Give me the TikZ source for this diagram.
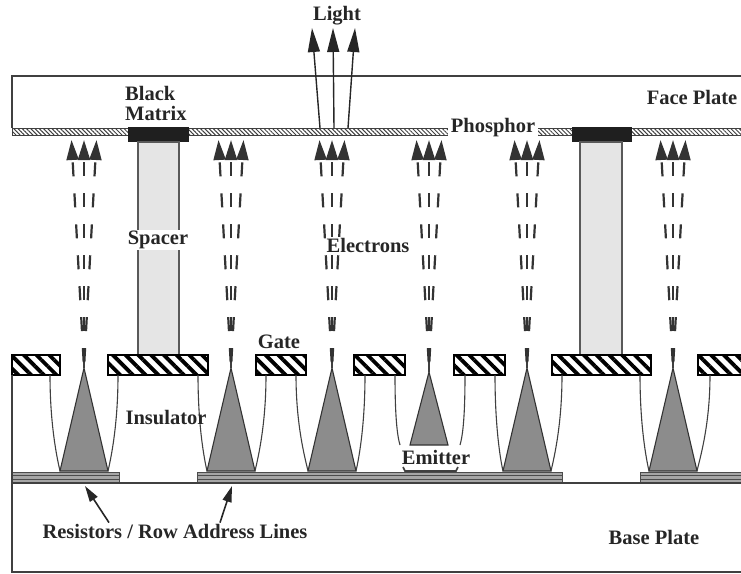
\documentclass[tikz,border=0pt]{standalone}
\usepackage{fontspec}
\setmainfont{Liberation Serif}
\usepackage{tikz}
\usetikzlibrary{arrows.meta, patterns.meta}
\tikzset{
  txt/.style={font=\bfseries\fontsize{20.5}{20}\selectfont, text=black!85, inner sep=1pt},
  plate/.style={draw=black!75, line width=1.4pt},
  phosphor/.style={pattern={Lines[angle=-45,distance=3pt,line width=1pt]}, pattern color=black!75, draw=black!75, line width=0.8pt},
  blackmat/.style={fill=black!88},
  post/.style={fill=black!10, draw=black!65, line width=1.4pt},
  gatebar/.style={pattern={Lines[angle=-45,distance=9pt,line width=3.8pt]}, draw=black, line width=1.4pt},
  cone/.style={fill=black!45, draw=black!80, line width=1.1pt},
  wall/.style={draw=black!75, line width=1.1pt},
  rowline/.style={fill=black!35, draw=black!70, line width=0.9pt},
  electron/.style={{Triangle[length=20pt,width=12pt]}-, draw=black!80, line width=2.2pt, dash pattern=on 14pt off 17pt, dash phase=28pt},
  ray/.style={-{Triangle[length=24pt,width=12pt]}, draw=black!85, line width=1.4pt},
  pointer/.style={-{Triangle[length=16pt,width=9pt]}, draw=black!85, line width=1.6pt}
}

\begin{document}
\begin{tikzpicture}[x=1pt, y=-1pt]
	\useasboundingbox (0,0) rectangle (741,573);
	\clip (0,0) rectangle (741,573);
	% face plate and phosphor
	\draw[plate] (12,128) -- (12,76) -- (750,76);
	\draw[phosphor] (12,128) rectangle (750,135);
	\fill[blackmat] (128,127) rectangle (189,142);
	\fill[blackmat] (572,127) rectangle (632,142);
	% spacers
	\filldraw[post] (138,142) rectangle (179,355);
	\filldraw[post] (580,142) rectangle (622,355);
	% gate
	\foreach \a/\b in {12/60, 108/208, 256/306, 354/405, 454/505, 552/651, 698/750}
		\draw[gatebar] (\a,355) rectangle (\b,375);
	% resistors / row lines
	\foreach \a/\b in {12/119, 197/562, 640/750}{
		\filldraw[rowline] (\a,472) rectangle (\b,483);
		\draw[black!70, line width=0.6pt] (\a,475.5) -- (\b,475.5) (\a,479) -- (\b,479);
	}
	% base plate
	\draw[plate] (12,375) -- (12,572) -- (750,572);
	\draw[plate] (12,483) -- (750,483);
	% emitter cones in their cavities
	\foreach \x/\a/\b in {84/50/118, 231/198/266, 332/296/365, 527/495/562, 673/640/710}{
		\filldraw[cone] (\x-24,471) -- (\x,368) -- (\x+24,471) -- cycle;
		\draw[wall] (\a,375) .. controls (\a,425) and (\x-27,458) .. (\x-24,471);
		\draw[wall] (\b,375) .. controls (\b,425) and (\x+27,458) .. (\x+24,471);
		\draw[wall] (\x,368) -- (\x,350);
	}
	\filldraw[cone] (410,445) -- (429,372) -- (448,445) -- cycle;
	\draw[wall] (395,375) .. controls (395,415) and (397,435) .. (400,445);
	\draw[wall] (465,375) .. controls (465,415) and (463,435) .. (460,445);
	\draw[wall] (429,372) -- (429,352);
	\draw[wall, line width=1.6pt] (403,467) -- (405,471) -- (456,471) -- (458,467);
	% electrons
	\foreach \x in {84, 231, 332, 429, 527, 673}
		\foreach \k in {-1,0,1}
			\draw[electron] (\x+\k*12.5,140) -- (\x,368);
	% light
	\foreach \a/\b in {320/312, 334/333, 348/355}
		\draw[ray] (\a,128) -- (\b,28);
	% labels
	\node[txt] (light) at (337,16) {Light};
	\node[txt, align=left, anchor=west] (blackmatrix) at (124,103) {Black\\Matrix};
	\node[txt] (faceplate) at (692,97) {Face Plate};
	\node[txt, fill=white, inner sep=3pt] (phosphor) at (493,128) {Phosphor};
	\node[txt, fill=white] (spacer) at (158,240) {Spacer};
	\node[txt, fill=white] (electrons) at (368,245) {Electrons};
	\node[txt] (gate) at (279,342) {Gate};
	\node[txt] (insulator) at (166,418) {Insulator};
	\node[txt] (emitter) at (436,457) {Emitter};
	\node[txt] (resistors) at (175,531) {Resistors / Row Address Lines};
	\node[txt] (baseplate) at (654,537) {Base Plate};
	% pointers to the row lines
	\coordinate (row1) at (85,486);
	\coordinate (row2) at (232,486);
	\draw[pointer] ([xshift=-66pt]resistors.north) -- (row1);
	\draw[pointer] ([xshift=45pt]resistors.north) -- (row2);
\end{tikzpicture}
\end{document}
